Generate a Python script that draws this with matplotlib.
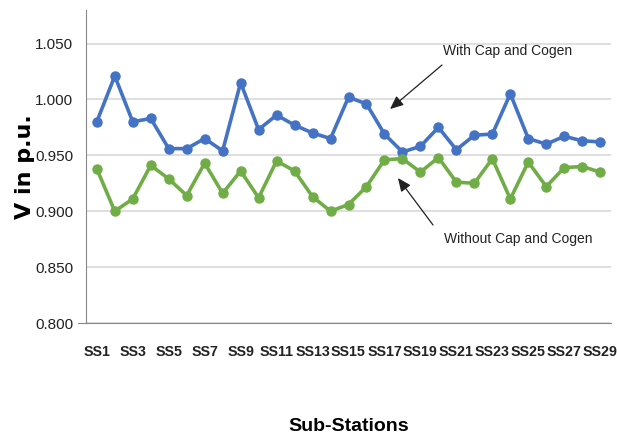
import matplotlib
matplotlib.use("Agg")
import matplotlib.pyplot as plt
import numpy as np

# bus voltages per sub-station (p.u.)
stations = ["SS%d" % i for i in range(1, 30)]
with_cap = [0.980, 1.021, 0.980, 0.983, 0.956, 0.956, 0.965, 0.954, 1.015, 0.973,
            0.986, 0.977, 0.970, 0.965, 1.002, 0.996, 0.969, 0.953, 0.958, 0.975,
            0.955, 0.968, 0.969, 1.005, 0.965, 0.960, 0.967, 0.963, 0.962]
without_cap = [0.938, 0.900, 0.911, 0.941, 0.929, 0.914, 0.943, 0.916, 0.936, 0.912,
               0.945, 0.936, 0.913, 0.900, 0.906, 0.922, 0.946, 0.947, 0.935, 0.948,
               0.926, 0.925, 0.947, 0.911, 0.944, 0.922, 0.939, 0.940, 0.935]
yticks = [0.800, 0.850, 0.900, 0.950, 1.000, 1.050]

font = "Liberation Sans"

fig = plt.figure(figsize=(6.17, 4.37), dpi=100)
ax = fig.add_axes([86/617, 1 - 323/437, (611 - 86)/617, (323 - 10)/437])

x = np.arange(1, len(stations) + 1)
ax.plot(x, with_cap, '-o', color='#4472C4', lw=2.6, ms=6.5, zorder=3)
ax.plot(x, without_cap, '-o', color='#70AD47', lw=2.6, ms=6.5, zorder=3)

ax.set_xlim(0.4, 29.6)
ax.set_ylim(0.8, 1.08)
ax.set_yticks(yticks)
ax.set_yticklabels(["%.3f" % v for v in yticks], family=font, fontsize=11,
                   color='#222222')
ax.set_xticks(x[::2])
ax.set_xticklabels(stations[::2], family=font, fontsize=10.3, fontweight='bold',
                   color='#222222')
ax.tick_params(axis='x', length=0, pad=16)
ax.tick_params(axis='y', length=0, pad=9)
ax.grid(axis='y', color='#d9d9d9', lw=1.2, zorder=0)
for s in ['top', 'right']:
    ax.spines[s].set_visible(False)
ax.spines['left'].set_color('#888888')
ax.spines['bottom'].set_color('#888888')
# short stub of the category axis left of the value axis
ax.plot([-0.05, 0.4], [0.8, 0.8], color='#888888', lw=0.8, clip_on=False)

ax.set_ylabel("V in p.u.", fontsize=16, fontweight='bold', labelpad=0)
ax.set_xlabel("Sub-Stations", family=font, fontsize=14, fontweight='bold',
              labelpad=42)

# callouts for the two curves
arrow = dict(arrowstyle='-|>,head_length=0.8,head_width=0.35', color='#222222',
             lw=0.9, shrinkA=0, shrinkB=0)
ax.text(20.26, 1.0433, "With Cap and Cogen", family=font, fontsize=10,
        ha='left', va='center', color='#222222')
ax.annotate("", xy=(17.31, 0.9914), xytext=(20.20, 1.0308), arrowprops=arrow)
ax.text(20.31, 0.8751, "Without Cap and Cogen", family=font, fontsize=10,
        ha='left', va='center', color='#222222')
ax.annotate("", xy=(17.75, 0.9297), xytext=(19.70, 0.8877), arrowprops=arrow)

fig.savefig("out.png", dpi=100)
